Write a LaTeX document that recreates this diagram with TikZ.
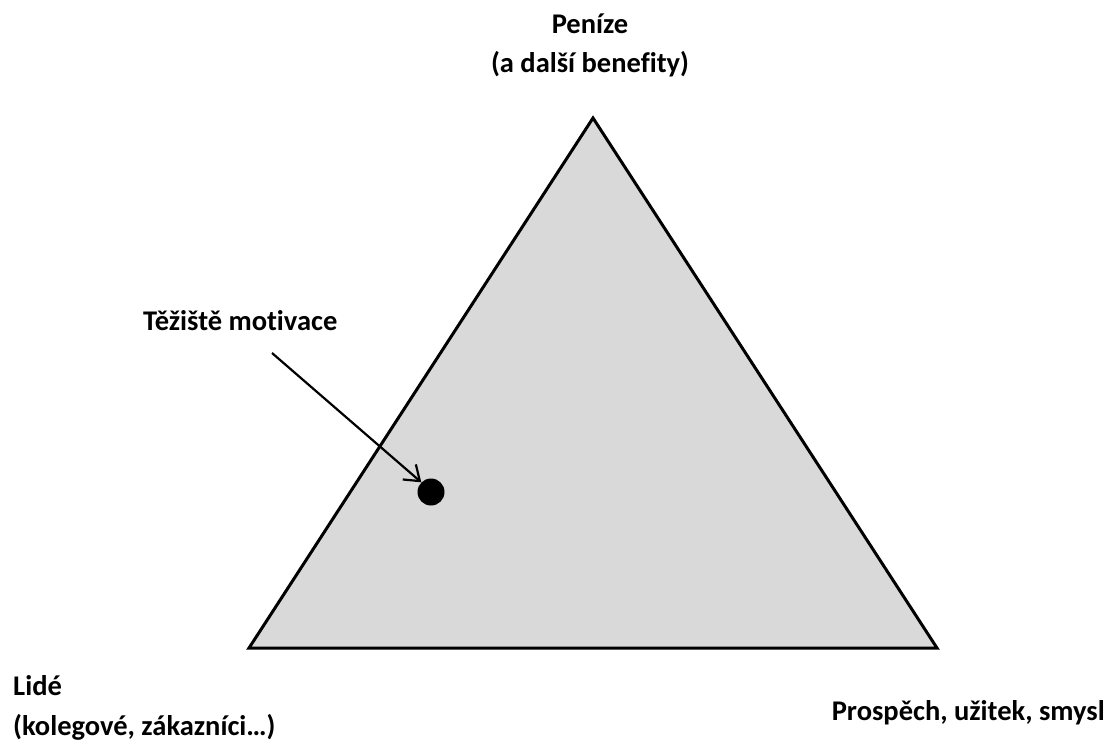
\documentclass[tikz,border=0pt]{standalone}
\usepackage{fontspec}
\setmainfont{Carlito}[Ligatures=NoCommon]
\usetikzlibrary{arrows.meta}
\definecolor{trifill}{HTML}{D9D9D9}
\tikzset{
  lbl/.style={font=\fontsize{28.5}{34}\selectfont\bfseries, inner sep=0pt, text=black},
  tri/.style={draw=black, line width=3pt, fill=trifill, line join=miter},
  pointer/.style={draw=black, line width=2.2pt, -{Straight Barb[length=14pt,width=20pt,line width=2.2pt]}},
}
\begin{document}
\begin{tikzpicture}[x=1pt,y=-1pt]
\useasboundingbox (0,0) rectangle (1113,742);
\coordinate (A) at (593,118);
\coordinate (B) at (249,648);
\coordinate (C) at (937,648);
\draw[tri] (A) -- (B) -- (C) -- cycle;
\node[circle, fill=black, minimum size=27pt, inner sep=0pt] (dot) at (431,492) {};
\node[lbl, anchor=base] (pen1) at (590,33) {Peníze};
\node[lbl, anchor=base] (pen2) at (590,72) {(a další benefity)};
\node[lbl, anchor=base west] (tez) at (143,330) {Těžiště motivace};
\node[lbl, anchor=base west] (lid1) at (13,695) {Lidé};
\node[lbl, anchor=base west] (lid2) at (13,735) {(kolegové, zákazníci…)};
\node[lbl, anchor=base east] (pro) at (1105,720) {Prospěch, užitek, smysl};
\coordinate (s) at (272,353);
\draw[pointer] (s) -- (dot.north west);
\end{tikzpicture}
\end{document}
